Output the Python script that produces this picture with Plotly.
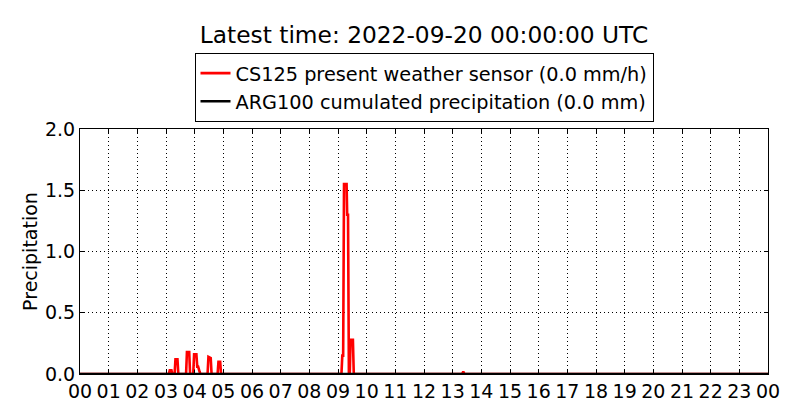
import plotly.graph_objects as go

# hours since 00 UTC and CS125 rain rate (mm/h)
cs125_hours = [0.00, 3.10, 3.13, 3.19, 3.22, 3.30, 3.33, 3.40, 3.43,
               3.70, 3.73, 3.81, 3.84, 3.95, 3.98, 4.06, 4.09, 4.12, 4.17, 4.20,
               4.45, 4.48, 4.56, 4.59, 4.80, 4.83, 4.89, 4.92,
               9.12, 9.15, 9.18, 9.21, 9.30, 9.32, 9.35, 9.38, 9.41, 9.44, 9.52, 9.55,
               13.33, 13.37, 13.41, 24.00]
cs125_rate = [0.0, 0.0, 0.03, 0.03, 0.0, 0.0, 0.12, 0.12, 0.0,
              0.0, 0.18, 0.18, 0.0, 0.0, 0.16, 0.16, 0.06, 0.06, 0.02, 0.0,
              0.0, 0.14, 0.13, 0.0, 0.0, 0.10, 0.10, 0.0,
              0.0, 0.15, 0.15, 1.55, 1.55, 1.30, 1.30, 0.0, 0.0, 0.28, 0.28, 0.0,
              0.0, 0.02, 0.0, 0.0]

arg100_hours = [0.0, 24.0]
arg100_cum = [0.0, 0.0]

hour_ticks = list(range(25))
hour_labels = ["%02d" % (h % 24) for h in hour_ticks]
precip_ticks = [0.0, 0.5, 1.0, 1.5, 2.0]
precip_labels = ["0.0", "0.5", "1.0", "1.5", "2.0"]

FONT = "DejaVu Sans"

fig = go.Figure()
fig.add_trace(go.Scatter(
    x=cs125_hours, y=cs125_rate, mode="lines",
    line=dict(color="#ff0000", width=2.6),
    name="CS125 present weather sensor (0.0 mm/h)",
))
fig.add_trace(go.Scatter(
    x=arg100_hours, y=arg100_cum, mode="lines",
    line=dict(color="#000000", width=2.6),
    name="ARG100 cumulated precipitation (0.0 mm)",
))

axis_common = dict(
    showline=True, linecolor="black", linewidth=1, mirror="ticks",
    ticks="inside", ticklen=4, tickcolor="black",
    showgrid=True, gridcolor="black", gridwidth=1, griddash="1px,3px",
    zeroline=False, automargin=False,
    tickfont=dict(family=FONT, size=19, color="black"),
)

fig.update_xaxes(range=[0, 24], tickvals=hour_ticks, ticktext=hour_labels, **axis_common)
fig.update_yaxes(range=[0, 2.0], tickvals=precip_ticks, ticktext=precip_labels,
                 title=dict(text="Precipitation", font=dict(family=FONT, size=19, color="black"), standoff=2),
                 **axis_common)

# the page puts the figure 8px in from the top-left corner, margins allow for that
fig.update_layout(
    width=800, height=420,
    margin=dict(l=72, r=40, t=121, b=54, autoexpand=False),
    paper_bgcolor="white", plot_bgcolor="white",
    font=dict(family=FONT, size=19, color="black"),
    title=dict(text="Latest time: 2022-09-20 00:00:00 UTC", x=0.52, xanchor="center",
               y=0.936, yanchor="middle", font=dict(family=FONT, size=23.3, color="black")),
    legend=dict(x=0.5, xanchor="center", y=1.31, yanchor="top", xref="paper",
                bordercolor="black", borderwidth=1, bgcolor="white",
                font=dict(family=FONT, size=19.3, color="black")),
    showlegend=True,
)

fig.write_html("out.html")
